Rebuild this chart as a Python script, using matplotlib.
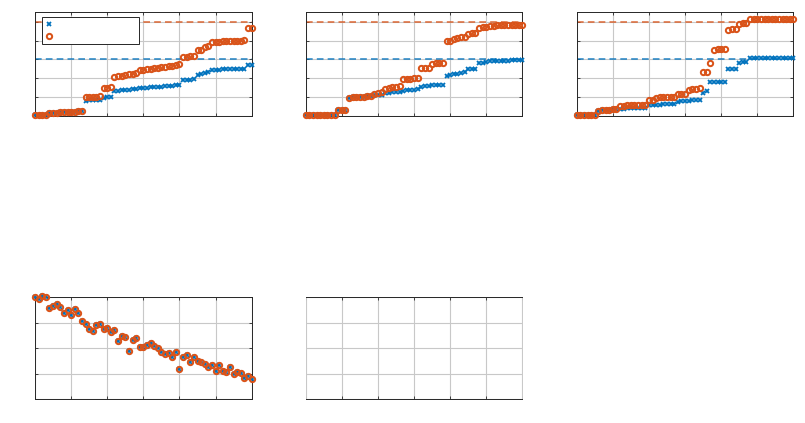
import numpy as np
import matplotlib
matplotlib.use("Agg")
import matplotlib.pyplot as plt

BLUE = "#0072BD"
ORANGE = "#D95319"

# sorted values per panel, 61 samples each
tl_blue = [0.03, 0.03, 0.03, 0.03,
           0.14, 0.15, 0.16, 0.17, 0.18, 0.19, 0.20, 0.21, 0.23, 0.25,
           0.80, 0.81, 0.82, 0.83, 0.84,
           0.96, 0.98, 1.00,
           1.30, 1.33, 1.35, 1.36, 1.38, 1.40, 1.42,
           1.45, 1.46, 1.48, 1.50, 1.51, 1.53, 1.55, 1.56, 1.58, 1.60, 1.62, 1.64,
           1.90, 1.90, 1.92, 1.93,
           2.18, 2.20, 2.28, 2.30,
           2.44, 2.45, 2.45, 2.46, 2.46, 2.47, 2.47, 2.48, 2.48, 2.49,
           2.70, 2.71]
tl_orange = [0.03, 0.03, 0.03, 0.03,
             0.14, 0.15, 0.16, 0.17, 0.18, 0.19, 0.20, 0.21, 0.23, 0.25,
             0.99, 1.00, 1.01, 1.02, 1.04,
             1.48, 1.49, 1.50,
             2.08, 2.10, 2.12, 2.15, 2.20, 2.24, 2.27,
             2.42, 2.45, 2.47, 2.50, 2.52, 2.55, 2.58, 2.60, 2.63, 2.66, 2.70, 2.74,
             3.12, 3.14, 3.17, 3.20,
             3.48, 3.52, 3.66, 3.70,
             3.92, 3.93, 3.94, 3.95, 3.96, 3.97, 3.98, 3.99, 4.00, 4.02,
             4.65, 4.66]

tm_blue = [0.03] * 9 + [
           0.30, 0.30, 0.31,
           0.96, 0.98, 0.99, 1.00, 1.02, 1.04, 1.06,
           1.08, 1.10, 1.12,
           1.20, 1.22, 1.24, 1.26, 1.28,
           1.34, 1.36, 1.37, 1.38, 1.40,
           1.55, 1.56, 1.58,
           1.62, 1.63, 1.64, 1.65,
           2.12, 2.14,
           2.20, 2.24, 2.28, 2.32,
           2.46, 2.48, 2.50,
           2.80, 2.82, 2.84,
           2.90, 2.91, 2.92, 2.92, 2.93, 2.93, 2.94, 2.94, 2.95, 2.95]
tm_orange = [0.03] * 9 + [
             0.30, 0.30, 0.31,
             0.96, 0.98, 0.99, 1.00, 1.02, 1.04, 1.06,
             1.18, 1.20, 1.24,
             1.44, 1.48, 1.52, 1.55, 1.58,
             1.96, 1.97, 1.97, 1.98, 1.98,
             2.52, 2.52, 2.53,
             2.77, 2.78, 2.78, 2.79,
             3.98, 3.99,
             4.10, 4.13, 4.16, 4.20,
             4.36, 4.38, 4.40,
             4.68, 4.70, 4.72,
             4.78, 4.79, 4.80, 4.80, 4.81, 4.82, 4.82, 4.83, 4.83, 4.84]

tr_blue = [0.03] * 6 + [
           0.26, 0.28, 0.30, 0.31, 0.33, 0.35,
           0.38, 0.38, 0.39, 0.39, 0.40, 0.40, 0.41, 0.41,
           0.56, 0.57,
           0.58, 0.59, 0.60, 0.60, 0.61, 0.62,
           0.74, 0.76, 0.78,
           0.80, 0.82, 0.84, 0.86,
           1.20, 1.32,
           1.78,
           1.79, 1.80, 1.80, 1.81,
           2.46, 2.46, 2.47,
           2.82, 2.83, 2.84] + [3.09] * 13
tr_orange = [0.03] * 6 + [
             0.26, 0.28, 0.30, 0.31, 0.33, 0.35,
             0.53, 0.54, 0.55, 0.55, 0.56, 0.56, 0.57, 0.58,
             0.82, 0.84,
             0.96, 0.97, 0.98, 0.99, 1.00, 1.01,
             1.14, 1.16, 1.18,
             1.36, 1.40, 1.42, 1.45,
             2.30, 2.31,
             2.78,
             3.52, 3.53, 3.53, 3.54,
             4.58, 4.59, 4.60,
             4.90, 4.91, 4.92] + [5.14] * 13

# bottom-left: both series coincide
bl_vals = [4.00, 3.92, 4.05, 4.03, 3.57, 3.66, 3.72, 3.61, 3.40, 3.50,
           3.32, 3.55, 3.40, 3.07, 2.94, 2.75, 2.67, 2.93, 2.94, 2.76,
           2.80, 2.63, 2.72, 2.29, 2.47, 2.46, 1.91, 2.33, 2.42, 2.07,
           2.04, 2.13, 2.20, 2.09, 2.00, 1.87, 1.78, 1.80, 1.67, 1.87,
           1.20, 1.65, 1.74, 1.46, 1.65, 1.51, 1.45, 1.38, 1.28, 1.36,
           1.12, 1.35, 1.12, 1.07, 1.25, 0.98, 1.06, 1.02, 0.85, 0.91,
           0.78]

ref_blue = 3.0
ref_orange = 5.0

x = np.arange(len(tl_blue))

fig = plt.figure(figsize=(8.05, 4.23), dpi=100)

W, H_TOP, H_BOT = 0.2692, 0.2444, 0.2411
LEFTS = [0.0435, 0.3798, 0.7164]


def style(ax, ylim, ny, yaxis=True):
    ax.set_xlim(0, 60)
    ax.set_ylim(*ylim)
    ax.set_xticks(np.linspace(0, 60, 7))
    ax.set_yticks(np.arange(0, ny + 1))
    ax.tick_params(direction="in", length=2, width=0.6, color="#262626",
                   top=True, right=True, labelbottom=False, labelleft=False)
    ax.grid(True, color="#c8c8c8", linewidth=0.8)
    ax.set_axisbelow(True)
    for s in ax.spines.values():
        s.set_color("#262626")
        s.set_linewidth(0.7)
    if not yaxis:
        ax.tick_params(left=False, right=False)
        ax.spines["left"].set_color("#c8c8c8")
        ax.spines["right"].set_color("#c8c8c8")


def scatter_pair(ax, yb, yo):
    hb, = ax.plot(x, yb, ls="none", marker="x", ms=3.4, mew=1.3,
                  color=BLUE, clip_on=False, zorder=3)
    ho, = ax.plot(x, yo, ls="none", marker="o", ms=3.8, mew=1.45,
                  mfc="none", mec=ORANGE, clip_on=False, zorder=4)
    return hb, ho


panels = [(tl_blue, tl_orange), (tm_blue, tm_orange), (tr_blue, tr_orange)]
for k, (yb, yo) in enumerate(panels):
    ax = fig.add_axes([LEFTS[k], 0.7265, W, H_TOP])
    style(ax, (0, 5.5), 5)
    ax.axhline(ref_blue, color=BLUE, ls="--", lw=1.2, dashes=(4, 2.5), alpha=0.8, zorder=2)
    ax.axhline(ref_orange, color=ORANGE, ls="--", lw=1.2, dashes=(4, 2.5), alpha=0.8, zorder=2)
    hb, ho = scatter_pair(ax, yb, yo)
    if k == 0:
        leg = ax.legend([hb, ho], [" ", " "], loc="upper left",
                        bbox_to_anchor=(0.032, 0.70, 0.447, 0.252), mode="expand",
                        borderaxespad=0, fontsize=6.5, handlelength=0.8,
                        handletextpad=0.4, borderpad=0.35, labelspacing=0.25,
                        numpoints=1, fancybox=False, framealpha=1,
                        edgecolor="#262626")
        leg.get_frame().set_linewidth(0.7)
        leg.set_zorder(5)

ax = fig.add_axes([LEFTS[0], 0.056, W, H_BOT])
style(ax, (0, 4), 4)
scatter_pair(ax, bl_vals, bl_vals)

ax = fig.add_axes([LEFTS[1], 0.056, W, H_BOT])
style(ax, (0, 4), 4, yaxis=False)

fig.savefig("out.png", dpi=100, facecolor="white")
